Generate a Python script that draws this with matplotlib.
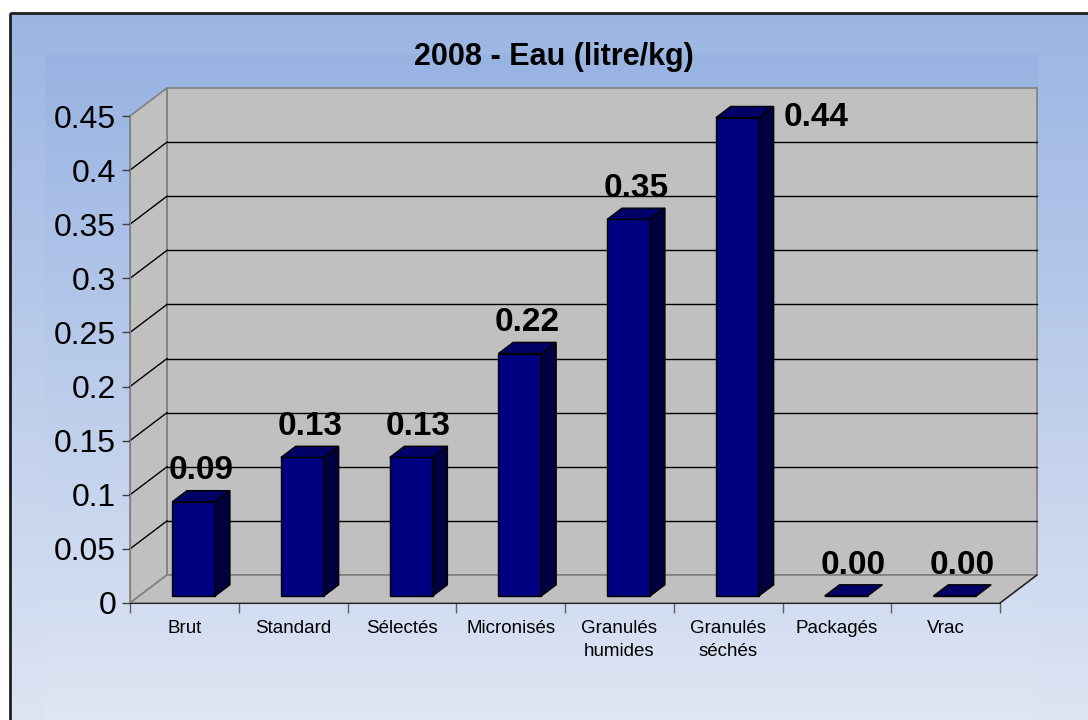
import numpy as np
import matplotlib
matplotlib.use("Agg")
import matplotlib.pyplot as plt
from matplotlib.patches import Polygon, Rectangle
from matplotlib.colors import to_rgb

plt.rcParams["font.family"] = ["Liberation Sans", "DejaVu Sans"]

# data
categories = ["Brut", "Standard", "Sélectés", "Micronisés", "Granulés\nhumides",
              "Granulés\nséchés", "Packagés", "Vrac"]
values = [0.087, 0.128, 0.128, 0.224, 0.348, 0.442, 0.0, 0.0]
labels = ["0.09", "0.13", "0.13", "0.22", "0.35", "0.44", "0.00", "0.00"]
yticks = [0, 0.05, 0.1, 0.15, 0.2, 0.25, 0.3, 0.35, 0.4, 0.45]
title = "2008 - Eau (litre/kg)"

W, H = 1088, 720
fig = plt.figure(figsize=(W / 100, H / 100), dpi=100, facecolor="white")

# background gradients (pixel coordinates)
bg = fig.add_axes([0, 0, 1, 1], zorder=-5)
bg.set_xlim(0, W)
bg.set_ylim(H, 0)
bg.axis("off")


def gradient(c_top, c_bot, n=256):
    t = np.linspace(0, 1, n)[:, None]
    a, b = np.array(to_rgb(c_top)), np.array(to_rgb(c_bot))
    return (a * (1 - t) + b * t)[:, None, :].repeat(2, axis=1)


bg.imshow(gradient("#9bb5e3", "#dde4f3"), extent=(10, W, H, 13), aspect="auto", zorder=0)
bg.imshow(gradient("#98b3e2", "#dfe6f4"), extent=(45, 1038, H, 54), aspect="auto", zorder=1)
bg.add_patch(Rectangle((9.5, 12.5), W, H, fill=False, ec="#202020", lw=2, zorder=2))

# front plane of the 3D chart
n = len(categories)
ymax = 0.45
ax = fig.add_axes([130 / W, 117 / H, 870 / W, 487 / H])
ax.set_xlim(0, n)
ax.set_ylim(0, ymax)
ax.patch.set_visible(False)

# depth vector in data units
DX = 37 / (870 / n)
DY = 28 / (487 / ymax)

wall = "#c0c0c0"
edge = "#808080"
back = Polygon([(DX, DY), (n + DX, DY), (n + DX, ymax + DY), (DX, ymax + DY)],
               closed=True, fc=wall, ec=edge, lw=1.2, clip_on=False, zorder=0)
left = Polygon([(0, 0), (DX, DY), (DX, ymax + DY), (0, ymax)],
               closed=True, fc=wall, ec=edge, lw=1.2, clip_on=False, zorder=0)
floor = Polygon([(0, 0), (n, 0), (n + DX, DY), (DX, DY)],
                closed=True, fc=wall, ec=edge, lw=1.2, clip_on=False, zorder=0)
for p in (back, left, floor):
    ax.add_patch(p)
ax.plot([n, n + DX], [0, DY], color="#202020", lw=1, clip_on=False, zorder=1)

for yv in yticks[1:-1]:
    ax.plot([DX, n + DX], [yv + DY, yv + DY], color="black", lw=1, clip_on=False, zorder=1)
    ax.plot([0, DX], [yv, yv + DY], color="black", lw=1, clip_on=False, zorder=1)

# bars
f0, fd, w = 0.25, 0.4, 0.395
front_c, top_c, side_c = "#000080", "#000066", "#000040"
x0s = [i + 0.5 - w / 2 + f0 * DX for i in range(n)]
base = f0 * DY
ax.bar(x0s, values, width=w, bottom=base, align="edge", color=front_c,
       edgecolor="black", lw=1, zorder=3, clip_on=False)
for x0, v, lab in zip(x0s, values, labels):
    t = base + v
    ax.add_patch(Polygon([(x0, t), (x0 + w, t), (x0 + w + fd * DX, t + fd * DY),
                          (x0 + fd * DX, t + fd * DY)], closed=True, fc=top_c,
                         ec="black", lw=1, zorder=3, clip_on=False))
    if v > 0:
        ax.add_patch(Polygon([(x0 + w, base), (x0 + w + fd * DX, base + fd * DY),
                              (x0 + w + fd * DX, t + fd * DY), (x0 + w, t)], closed=True,
                             fc=side_c, ec="black", lw=1, zorder=3, clip_on=False))
    if t + fd * DY + 0.03 > ymax:
        ax.annotate(lab, (x0 + w + fd * DX, t), xytext=(7, 0), textcoords="offset points",
                    ha="left", va="center", fontsize=24, fontweight="bold", zorder=5)
    else:
        ax.annotate(lab, (x0 + w / 2 + fd * DX / 2, t + fd * DY), xytext=(0, 3),
                    textcoords="offset points", ha="center", va="bottom",
                    fontsize=24, fontweight="bold", zorder=5)

# axes, ticks
ax.spines["top"].set_visible(False)
ax.spines["right"].set_visible(False)
ax.spines["left"].set_color(edge)
ax.spines["bottom"].set_color("#202020")
ax.set_yticks(yticks)
ax.set_yticklabels([f"{y:g}" for y in yticks], fontsize=23)
ax.set_xticks(np.arange(n + 1))
ax.set_xticklabels([])
ax.set_xticks(np.arange(n) + 0.5, minor=True)
ax.set_xticklabels(categories, minor=True, fontsize=13.5, linespacing=1.45)
ax.tick_params(axis="y", length=6, width=1, color="#404040", pad=4)
ax.tick_params(axis="x", which="major", length=7, width=1, color="#606060")
ax.tick_params(axis="x", which="minor", length=0, pad=12)

fig.text(554 / W, 1 - 57 / H, title, ha="center", va="center", fontsize=22, fontweight="bold")

fig.savefig("out.png", dpi=100, facecolor="white")
